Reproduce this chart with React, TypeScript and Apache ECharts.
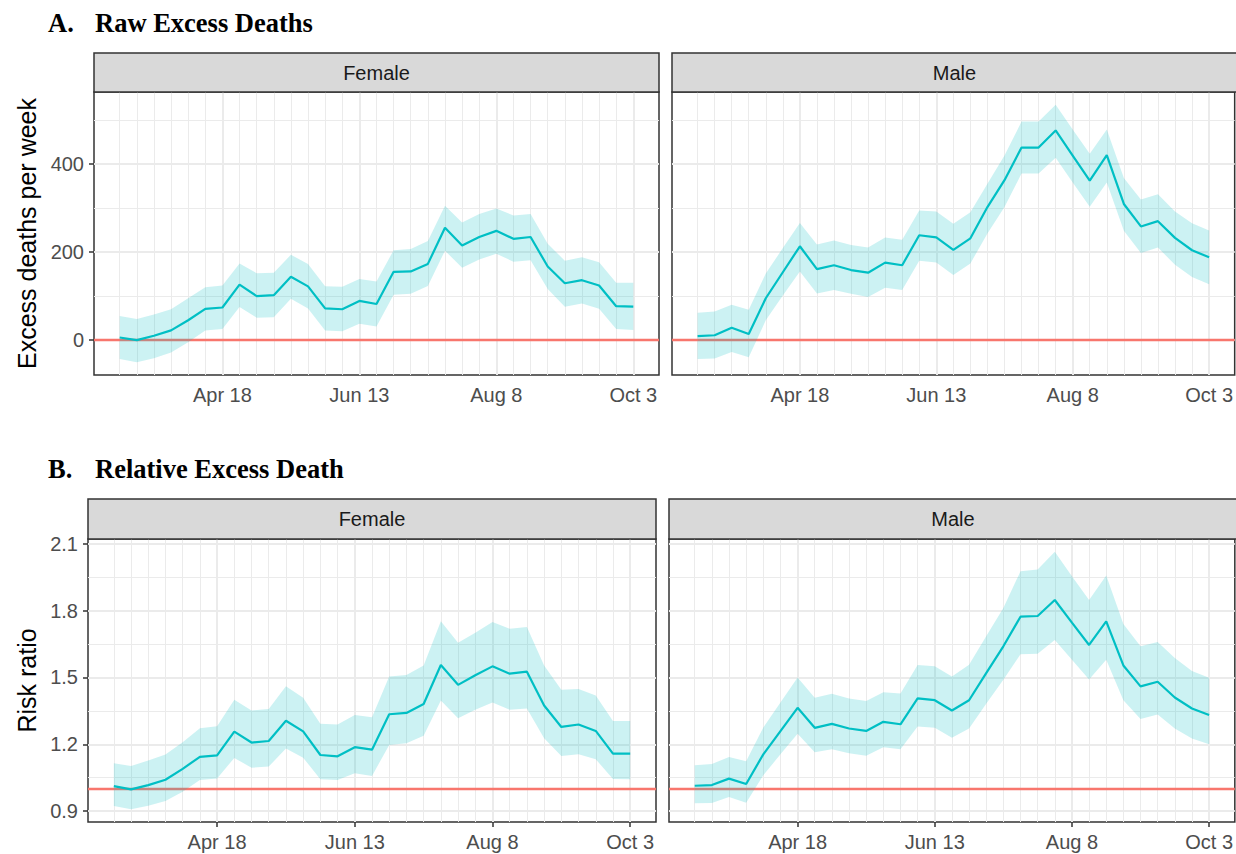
import React, { useEffect, useRef } from "react";
import * as echarts from "echarts";

// ---- data ----
const dates = [
  "2020-03-07", "2020-03-14", "2020-03-21", "2020-03-28", "2020-04-04", "2020-04-11",
  "2020-04-18", "2020-04-25", "2020-05-02", "2020-05-09", "2020-05-16", "2020-05-23",
  "2020-05-30", "2020-06-06", "2020-06-13", "2020-06-20", "2020-06-27", "2020-07-04",
  "2020-07-11", "2020-07-18", "2020-07-25", "2020-08-01", "2020-08-08", "2020-08-15",
  "2020-08-22", "2020-08-29", "2020-09-05", "2020-09-12", "2020-09-19", "2020-09-26",
  "2020-10-03",
];
const xTickDates = ["2020-04-18", "2020-06-13", "2020-08-08", "2020-10-03"];
const xTickLabels = ["Apr 18", "Jun 13", "Aug 8", "Oct 3"];

const deathTicks = [0, 200, 400];
const deathMinorTicks = [100, 300, 500];
const rrTicks = [0.9, 1.2, 1.5, 1.8, 2.1];
const rrMinorTicks = [1.05, 1.35, 1.65, 1.95];

const femaleDeaths = [6, 0, 10, 22, 45, 71, 74, 126, 100, 102, 144, 122, 72, 70, 89, 82, 155, 156, 173, 255, 215, 234, 248, 230, 234, 167, 129, 136, 124, 77, 76];
const femaleDeathsHi = [55, 48, 58, 70, 95, 120, 124, 174, 152, 153, 194, 173, 122, 121, 139, 133, 204, 207, 225, 305, 267, 286, 299, 283, 286, 219, 180, 188, 177, 130, 130];
const femaleDeathsLo = [-43, -50, -41, -28, -5, 22, 25, 75, 51, 52, 94, 72, 22, 20, 37, 31, 103, 105, 123, 203, 164, 183, 196, 178, 181, 116, 76, 83, 71, 25, 23];

const maleDeaths = [9, 11, 28, 14, 95, 154, 213, 161, 170, 159, 153, 176, 170, 238, 233, 205, 231, 302, 363, 437, 437, 476, 419, 362, 420, 309, 258, 270, 232, 204, 188];
const maleDeathsHi = [62, 65, 80, 69, 151, 209, 266, 217, 226, 216, 210, 233, 228, 294, 292, 264, 290, 355, 419, 496, 496, 534, 478, 423, 478, 368, 319, 331, 292, 265, 249];
const maleDeathsLo = [-43, -42, -27, -39, 45, 101, 156, 106, 114, 105, 98, 119, 114, 180, 176, 148, 174, 242, 302, 378, 378, 414, 358, 303, 358, 248, 198, 210, 171, 143, 127];

const femaleRR = [1.012, 0.998, 1.017, 1.041, 1.09, 1.144, 1.15, 1.257, 1.208, 1.215, 1.306, 1.258, 1.152, 1.146, 1.187, 1.176, 1.335, 1.341, 1.381, 1.556, 1.467, 1.51, 1.55, 1.517, 1.526, 1.374, 1.278, 1.289, 1.26, 1.158, 1.158];
const femaleRRHi = [1.115, 1.103, 1.127, 1.154, 1.209, 1.272, 1.281, 1.4, 1.352, 1.358, 1.461, 1.409, 1.292, 1.289, 1.332, 1.322, 1.505, 1.511, 1.554, 1.752, 1.656, 1.701, 1.749, 1.719, 1.727, 1.554, 1.445, 1.448, 1.419, 1.305, 1.305];
const femaleRRLo = [0.923, 0.909, 0.924, 0.945, 0.987, 1.04, 1.047, 1.139, 1.095, 1.1, 1.181, 1.14, 1.043, 1.04, 1.07, 1.058, 1.197, 1.205, 1.239, 1.397, 1.317, 1.355, 1.388, 1.355, 1.361, 1.227, 1.148, 1.155, 1.133, 1.044, 1.043];

const maleRR = [1.014, 1.017, 1.046, 1.022, 1.155, 1.259, 1.364, 1.274, 1.292, 1.271, 1.26, 1.301, 1.29, 1.406, 1.398, 1.352, 1.398, 1.52, 1.64, 1.773, 1.776, 1.848, 1.746, 1.646, 1.752, 1.554, 1.46, 1.481, 1.41, 1.361, 1.332];
const maleRRHi = [1.106, 1.112, 1.143, 1.124, 1.275, 1.388, 1.5, 1.409, 1.427, 1.406, 1.395, 1.434, 1.428, 1.556, 1.551, 1.505, 1.557, 1.685, 1.812, 1.977, 1.985, 2.064, 1.955, 1.848, 1.958, 1.74, 1.64, 1.659, 1.587, 1.529, 1.499];
const maleRRLo = [0.935, 0.936, 0.963, 0.938, 1.061, 1.155, 1.248, 1.164, 1.178, 1.16, 1.149, 1.187, 1.178, 1.28, 1.274, 1.23, 1.271, 1.382, 1.49, 1.604, 1.607, 1.668, 1.58, 1.491, 1.58, 1.398, 1.314, 1.334, 1.271, 1.226, 1.2];

// ---- helpers ----
const ts = (d: string) => Date.parse(d + "T00:00:00Z");
const xs = dates.map(ts);
const xTickVals = xTickDates.map(ts);
const xSpan = xs[xs.length - 1] - xs[0];
const xMin = xs[0] - 0.05 * xSpan;
const xMax = xs[xs.length - 1] + 0.05 * xSpan;

function yRange(arrs: number[][]) {
  const all = arrs.flat();
  const lo = Math.min(...all);
  const hi = Math.max(...all);
  const pad = (hi - lo) * 0.05;
  return [lo - pad, hi + pad];
}
const deathRange = yRange([femaleDeathsHi, femaleDeathsLo, maleDeathsHi, maleDeathsLo]);
const rrRange = yRange([femaleRRHi, femaleRRLo, maleRRHi, maleRRLo]);

const FONT = "Liberation Sans";
const CYAN = "#00BFC4";
const RED = "#F8766D";
const GRID = "#EBEBEB";

type Panel = {
  left: number; top: number; width: number; height: number;
  strip: string; mid: number[]; lo: number[]; hi: number[];
  kind: "deaths" | "rr"; showY: boolean;
};

const panels: Panel[] = [
  { left: 94, top: 92, width: 565, height: 283, strip: "Female", mid: femaleDeaths, lo: femaleDeathsLo, hi: femaleDeathsHi, kind: "deaths", showY: true },
  { left: 672, top: 92, width: 565, height: 283, strip: "Male", mid: maleDeaths, lo: maleDeathsLo, hi: maleDeathsHi, kind: "deaths", showY: false },
  { left: 88, top: 539, width: 568, height: 283, strip: "Female", mid: femaleRR, lo: femaleRRLo, hi: femaleRRHi, kind: "rr", showY: true },
  { left: 669, top: 539, width: 568, height: 283, strip: "Male", mid: maleRR, lo: maleRRLo, hi: maleRRHi, kind: "rr", showY: false },
];

function buildOption() {
  const grid: any[] = [];
  const xAxis: any[] = [];
  const yAxis: any[] = [];
  const series: any[] = [];
  const graphic: any[] = [];

  panels.forEach((p, i) => {
    const isD = p.kind === "deaths";
    const yr = isD ? deathRange : rrRange;
    const majors = isD ? deathTicks : rrTicks;
    const minors = isD ? deathMinorTicks : rrMinorTicks;
    const ref = isD ? 0 : 1;

    grid.push({
      left: p.left, top: p.top, width: p.width, height: p.height,
      show: true, borderColor: "#333333", borderWidth: 1.5, backgroundColor: "#ffffff",
      containLabel: false,
    });
    xAxis.push({
      type: "value", gridIndex: i, min: xMin, max: xMax,
      splitLine: { show: false }, axisLine: { show: false },
      axisTick: { show: true, customValues: xTickVals, length: 5, lineStyle: { color: "#333333", width: 1.5 } },
      axisLabel: {
        show: true, customValues: xTickVals, margin: 10,
        color: "#4D4D4D", fontSize: 20, fontFamily: FONT,
        formatter: (v: number) => {
          const k = xTickVals.indexOf(v);
          return k >= 0 ? xTickLabels[k] : "";
        },
      },
    });
    yAxis.push({
      type: "value", gridIndex: i, min: yr[0], max: yr[1],
      splitLine: { show: false }, axisLine: { show: false },
      axisTick: { show: p.showY, customValues: majors, length: 5, lineStyle: { color: "#333333", width: 1.5 } },
      axisLabel: {
        show: p.showY, customValues: majors, margin: 10,
        color: "#4D4D4D", fontSize: 20, fontFamily: FONT,
        formatter: (v: number) => (isD ? String(Math.round(v)) : v.toFixed(1)),
      },
    });

    const midData = xs.map((x, k) => [x, p.mid[k]]);

    const gridLines: any[] = [];
    xs.forEach((x) => gridLines.push({ xAxis: x, lineStyle: { color: GRID, width: 1, type: "solid" } }));
    xTickVals.forEach((x) => gridLines.push({ xAxis: x, lineStyle: { color: GRID, width: 2, type: "solid" } }));
    minors.forEach((v) => gridLines.push({ yAxis: v, lineStyle: { color: GRID, width: 1, type: "solid" } }));
    majors.forEach((v) => gridLines.push({ yAxis: v, lineStyle: { color: GRID, width: 2, type: "solid" } }));

    series.push({
      type: "line", xAxisIndex: i, yAxisIndex: i, data: midData, z: 1, silent: true,
      symbol: "none", lineStyle: { opacity: 0 },
      markLine: { silent: true, z: 1, symbol: ["none", "none"], label: { show: false }, data: gridLines, animation: false },
    });
    series.push({
      type: "line", xAxisIndex: i, yAxisIndex: i, data: midData, z: 2, silent: true,
      symbol: "none", lineStyle: { opacity: 0 },
      markLine: {
        silent: true, z: 2, symbol: ["none", "none"], label: { show: false },
        data: [{ yAxis: ref }], lineStyle: { color: RED, width: 2.4, type: "solid" }, animation: false,
      },
    });
    series.push({
      type: "custom", xAxisIndex: i, yAxisIndex: i, z: 3, silent: true, clip: true,
      data: xs.map((x, k) => [x, p.lo[k], p.hi[k]]),
      encode: { x: 0, y: [1, 2] },
      renderItem: (params: any, api: any) => {
        if (params.dataIndex !== 0) return null;
        const upper = xs.map((x, k) => api.coord([x, p.hi[k]]));
        const lower = xs.map((x, k) => api.coord([x, p.lo[k]])).reverse();
        return {
          type: "polygon",
          shape: { points: upper.concat(lower) },
          style: { fill: "rgba(0,191,196,0.2)", stroke: "none" },
        };
      },
    });
    series.push({
      type: "line", xAxisIndex: i, yAxisIndex: i, data: midData, z: 4, silent: true,
      symbol: "none", lineStyle: { color: CYAN, width: 2.2 },
    });

    // strip
    const stripTop = isD ? 53 : 499;
    graphic.push({
      type: "rect", silent: true,
      shape: { x: p.left, y: stripTop, width: p.width, height: p.top - stripTop },
      style: { fill: "#D9D9D9", stroke: "#333333", lineWidth: 1.5 },
      z: 10,
    });
    graphic.push({
      type: "text", silent: true, z: 11,
      x: p.left + p.width / 2, y: (stripTop + p.top) / 2,
      style: {
        text: p.strip, font: `20px "${FONT}"`, fill: "#1A1A1A",
        align: "center", verticalAlign: "middle", textAlign: "center", textVerticalAlign: "middle",
      },
    });
  });

  const titleFont = 'bold 26.5px "Liberation Serif"';
  const txt = (text: string, x: number, y: number, font: string) => ({
    type: "text", silent: true, z: 11, x, y,
    style: {
      text, font, fill: "#000000",
      align: "left", verticalAlign: "middle", textAlign: "left", textVerticalAlign: "middle",
    },
  });
  graphic.push(txt("A.", 48, 23, titleFont));
  graphic.push(txt("Raw Excess Deaths", 95, 23, titleFont));
  graphic.push(txt("B.", 48, 469, titleFont));
  graphic.push(txt("Relative Excess Death", 95, 469, titleFont));
  graphic.push({
    type: "text", silent: true, z: 11, x: 27, y: 233.5, rotation: Math.PI / 2,
    style: { text: "Excess deaths per week", font: `25px "${FONT}"`, fill: "#000000", align: "center", verticalAlign: "middle", textAlign: "center", textVerticalAlign: "middle" },
  });
  graphic.push({
    type: "text", silent: true, z: 11, x: 27, y: 680.5, rotation: Math.PI / 2,
    style: { text: "Risk ratio", font: `25px "${FONT}"`, fill: "#000000", align: "center", verticalAlign: "middle", textAlign: "center", textVerticalAlign: "middle" },
  });

  return {
    animation: false,
    backgroundColor: "#ffffff",
    grid, xAxis, yAxis, series, graphic,
  };
}

export default function App() {
  const ref = useRef<HTMLDivElement>(null);
  useEffect(() => {
    if (!ref.current) return;
    const chart = echarts.init(ref.current, null, { renderer: "svg" });
    chart.setOption(buildOption() as any);
    return () => chart.dispose();
  }, []);
  return (
    <div
      ref={ref}
      style={{ position: "absolute", left: 0, top: 0, width: 1236, height: 854, background: "#fff" }}
    />
  );
}
